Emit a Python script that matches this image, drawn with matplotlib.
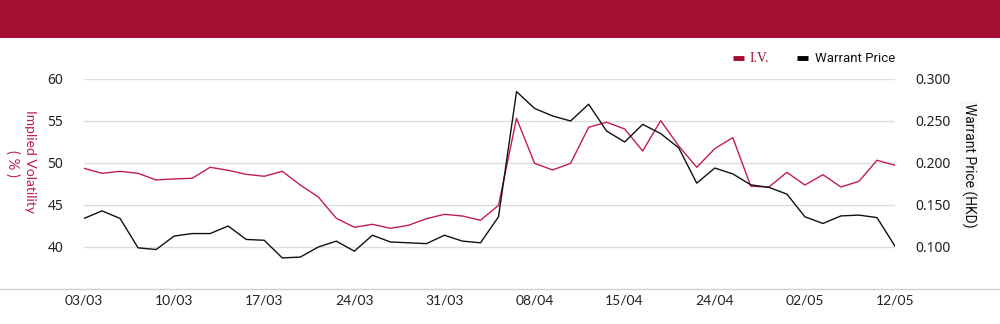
import matplotlib
matplotlib.use("Agg")
import matplotlib.pyplot as plt
from matplotlib.lines import Line2D
from matplotlib.patches import Rectangle

dates = ["03/03", "04/03", "05/03", "06/03", "07/03",
         "10/03", "11/03", "12/03", "13/03", "14/03",
         "17/03", "18/03", "19/03", "20/03", "21/03",
         "24/03", "25/03", "26/03", "27/03", "28/03",
         "31/03", "01/04", "02/04", "03/04", "07/04",
         "08/04", "09/04", "10/04", "11/04", "14/04",
         "15/04", "16/04", "17/04", "22/04", "23/04",
         "24/04", "25/04", "28/04", "29/04", "30/04",
         "02/05", "06/05", "07/05", "08/05", "09/05",
         "12/05"]

iv = [49.37, 48.77, 49.01, 48.77, 47.98, 48.10, 48.18, 49.49, 49.13, 48.65,
      48.42, 49.01, 47.38, 45.95, 43.42, 42.35, 42.70, 42.23, 42.58, 43.37,
      43.89, 43.69, 43.18, 44.96, 55.32, 49.96, 49.17, 49.96, 54.25, 54.85,
      54.05, 51.43, 55.04, 52.02, 49.49, 51.71, 53.02, 47.23, 47.14, 48.89,
      47.38, 48.61, 47.14, 47.82, 50.32, 49.73]

price = [0.134, 0.143, 0.134, 0.099, 0.097, 0.113, 0.116, 0.116, 0.125, 0.109,
         0.108, 0.087, 0.088, 0.100, 0.107, 0.095, 0.114, 0.106, 0.105, 0.104,
         0.114, 0.107, 0.105, 0.136, 0.285, 0.265, 0.256, 0.250, 0.270, 0.238,
         0.225, 0.246, 0.235, 0.218, 0.176, 0.194, 0.187, 0.174, 0.171, 0.163,
         0.136, 0.128, 0.137, 0.138, 0.135, 0.101]

tick_every = 5
iv_ticks = [40, 45, 50, 55, 60]
price_ticks = [0.100, 0.150, 0.200, 0.250, 0.300]

RED = "#A50E33"
LINE_RED = "#C21E4B"

W, H = 1000, 324
fig = plt.figure(figsize=(W / 100, H / 100), dpi=100)

# banner
fig.add_artist(Rectangle((0, 1 - 38 / H), 1, 38 / H, transform=fig.transFigure,
                         facecolor=RED, edgecolor="none"))
# full-width bottom line
fig.add_artist(Line2D([0, 1], [1 - 289 / H, 1 - 289 / H], transform=fig.transFigure,
                      color="#d0d0d0", lw=1.0))

left, right = 84 / W, 895 / W
bottom, top = 1 - 289 / H, 1 - 79 / H
ax = fig.add_axes([left, bottom, right - left, top - bottom])
ax2 = ax.twinx()

x = list(range(len(dates)))
ax.plot(x, iv, color=LINE_RED, lw=1.0, zorder=3)
ax2.plot(x, price, color="#111111", lw=1.0, zorder=3)

ax.set_xlim(0, len(dates) - 1)
ax.set_ylim(35, 60)
ax2.set_ylim(0.05, 0.30)

ax.set_yticks(iv_ticks)
ax.set_yticklabels([str(v) for v in iv_ticks])
ax2.set_yticks(price_ticks)
ax2.set_yticklabels([f"{v:.3f}" for v in price_ticks])

ax.set_xticks(x[::tick_every])
ax.set_xticklabels(dates[::tick_every], fontfamily="Lato", fontsize=10, color="#222222")

for a in (ax, ax2):
    for s in a.spines.values():
        s.set_visible(False)
    a.tick_params(axis="both", length=0)
ax.tick_params(axis="x", pad=4)
ax.tick_params(axis="y", pad=15, labelsize=10, labelcolor="#222222")
ax2.tick_params(axis="y", pad=15, labelsize=10, labelcolor="#222222")
for lab in ax.get_yticklabels() + ax2.get_yticklabels():
    lab.set_fontfamily("Noto Sans")

ax.grid(axis="y", color="#dcdcdc", lw=1.0)
ax.set_axisbelow(True)

# axis titles
fig.text(30 / W, 1 - 162 / H, "Implied Volatility", rotation=-90, color=LINE_RED,
         ha="center", va="center", fontsize=10, fontfamily="Lato")
fig.text(12 / W, 1 - 163 / H, "( % )", rotation=-90, color=LINE_RED,
         ha="center", va="center", fontsize=10.5, fontfamily="Lato")
fig.text(969 / W, 1 - 165 / H, "Warrant Price (HKD)", rotation=-90, color="#111111",
         ha="center", va="center", fontsize=10, fontfamily="Roboto",
         bbox=dict(facecolor="#f8f8f8", edgecolor="none", pad=1))

# legend
ly = 1 - 58 / H
fig.add_artist(Line2D([733 / W, 744 / W], [ly, ly], transform=fig.transFigure,
                      color=RED, lw=3.5, solid_capstyle="butt"))
fig.text(750 / W, ly, "I.V.", color=RED, ha="left", va="center",
         fontsize=10, fontfamily="Liberation Serif")
fig.add_artist(Line2D([797 / W, 808 / W], [ly, ly], transform=fig.transFigure,
                      color="#000000", lw=3.5, solid_capstyle="butt"))
fig.text(815 / W, ly, "Warrant Price", color="#111111", ha="left", va="center",
         fontsize=9.5, fontfamily="Roboto")

fig.savefig("out.png", dpi=100)
